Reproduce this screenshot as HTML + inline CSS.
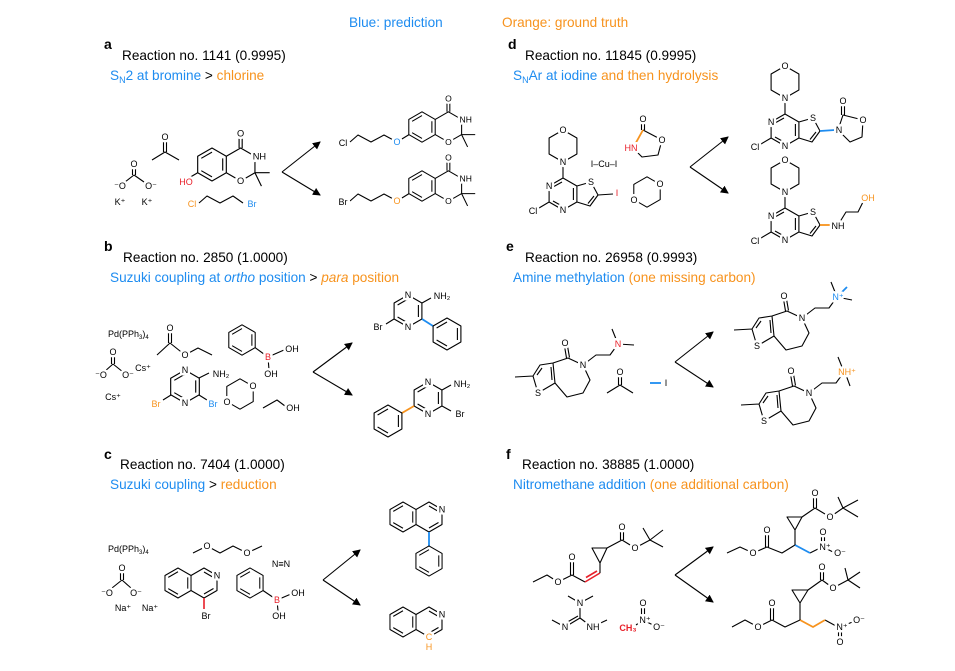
<!DOCTYPE html>
<html><head><meta charset="utf-8">
<style>
html,body{margin:0;padding:0;background:#fff}
svg{display:block}
text{font-family:"Liberation Sans",Arial,sans-serif}
.h{font-size:13.6px}
.p{font-size:14px;font-weight:bold}
.l{font-size:9px;text-anchor:middle;paint-order:stroke;stroke:#fff;stroke-width:5px;stroke-linejoin:round}
.b{fill:#1e8cf0}.o{fill:#f7931e}.r{fill:#e8202a}
path,polyline,polygon,line{fill:none;stroke:#000;stroke-width:1.1;stroke-linejoin:round}
.sb{stroke:#1e8cf0;stroke-width:1.8}.so{stroke:#f7931e;stroke-width:1.8}.sr{stroke:#e8202a;stroke-width:1.6}
</style></head><body>
<svg width="955" height="671" viewBox="0 0 955 671" xmlns="http://www.w3.org/2000/svg">
<defs>
<marker id="ah" markerWidth="8" markerHeight="8" refX="7" refY="4" orient="auto" markerUnits="userSpaceOnUse"><path d="M0,0 L8,4 L0,8 Z" style="fill:#000;stroke:none"/></marker>
<g id="hx"><polygon points="0,-16 13.9,-8 13.9,8 0,16 -13.9,8 -13.9,-8"/></g>
<g id="bz"><polygon points="0,-16 13.9,-8 13.9,8 0,16 -13.9,8 -13.9,-8"/><path d="M-10.4,-6 L0,-12 M10.4,-6 L10.4,6 M0,12 L-10.4,6"/></g>
<g id="bx"><use href="#bz"/>
<path d="M13.9,-8 L27.8,-16 L41.7,-8 L41.7,8 L27.8,16 L13.9,8 M26.3,-16 L26.3,-27 M29.3,-16 L29.3,-27 M41.7,8 L56,8 M41.7,8 L48,21"/>
<text class="l" x="27.8" y="-27">O</text><text class="l" x="46" y="-5">NH</text><text class="l" x="27.8" y="19">O</text></g>
<g id="tp"><path d="M0,-16 L-13.9,-8 L-13.9,8 L0,16 L13.9,8 L13.9,-8 Z M-1,-12 L-10,-7 M-10,7 L-1,12 M10.4,-6 L10.4,6 M13.9,-8 L28,-12 L35,1 L27,12 L13.9,8 M31,2 L25,9.5 M-13.9,8 L-24,14 M0,-16 L0,-32 M0,-32 L-13.9,-40 L-13.9,-56 L0,-64 L13.9,-56 L13.9,-40 Z"/>
<text class="l" x="0" y="-29">N</text><text class="l" x="0" y="-61">O</text><text class="l" x="-13.9" y="-5">N</text><text class="l" x="0" y="19">N</text><text class="l" x="28" y="-9">S</text><text class="l" x="-30" y="20">Cl</text></g>
<g id="ta"><path d="M-68,12 L-50,11 M-50,11 L-43,0 L-30,-2 L-28,18 L-45,28 Z M-46,10 L-41,3 M-32,2 L-31,15 M-30,-2 L-15,-7 L0,0 L7,15 L0,28 L-16,32 L-28,18 M-16.5,-7 L-18.5,-19 M-13.5,-7.5 L-15.5,-19 M0,0 L13,-10 L27,-10 L35,-21"/>
<text class="l" x="-18" y="-19">O</text><text class="l" x="0" y="3">N</text><text class="l" x="-45" y="31">S</text></g>
<g id="iq"><g transform="scale(0.9375)"><use href="#bz"/></g><path d="M13,-7.5 L26,-15 L39,-7.5 L39,7.5 L26,15 L13,7.5 M26,-11 L35.5,-5.5 M35.5,5.5 L26,11"/><text class="l" x="39" y="-4.5">N</text></g>
</defs>

<text class="h b" x="349" y="27">Blue: prediction</text>
<text class="h o" x="502" y="27">Orange: ground truth</text>

<text class="p" x="104" y="49">a</text>
<text class="h" x="122" y="60">Reaction no. 1141 (0.9995)</text>
<text class="h" x="110" y="80"><tspan class="b">S<tspan font-size="9" dy="3">N</tspan><tspan dy="-3">2 at bromine</tspan></tspan> &gt; <tspan class="o">chlorine</tspan></text>
<text class="p" x="508" y="49">d</text>
<text class="h" x="525" y="60">Reaction no. 11845 (0.9995)</text>
<text class="h" x="513" y="80"><tspan class="b">S<tspan font-size="9" dy="3">N</tspan><tspan dy="-3">Ar at iodine</tspan></tspan> <tspan class="o">and then hydrolysis</tspan></text>
<text class="p" x="104" y="251">b</text>
<text class="h" x="123" y="262">Reaction no. 2850 (1.0000)</text>
<text class="h" x="110" y="282"><tspan class="b">Suzuki coupling at <tspan font-style="italic">ortho</tspan> position</tspan> &gt; <tspan class="o"><tspan font-style="italic">para</tspan> position</tspan></text>
<text class="p" x="506" y="251">e</text>
<text class="h" x="525" y="262">Reaction no. 26958 (0.9993)</text>
<text class="h" x="513" y="282"><tspan class="b">Amine methylation</tspan> <tspan class="o">(one missing carbon)</tspan></text>
<text class="p" x="104" y="459">c</text>
<text class="h" x="120" y="469">Reaction no. 7404 (1.0000)</text>
<text class="h" x="110" y="489"><tspan class="b">Suzuki coupling</tspan> &gt; <tspan class="o">reduction</tspan></text>
<text class="p" x="506" y="459">f</text>
<text class="h" x="522" y="469">Reaction no. 38885 (1.0000)</text>
<text class="h" x="513" y="489"><tspan class="b">Nitromethane addition</tspan> <tspan class="o">(one additional carbon)</tspan></text>

<line x1="282" y1="172" x2="320" y2="142" marker-end="url(#ah)"/><line x1="282" y1="172" x2="320" y2="195" marker-end="url(#ah)"/>
<line x1="690" y1="167" x2="728" y2="137" marker-end="url(#ah)"/><line x1="690" y1="167" x2="728" y2="193" marker-end="url(#ah)"/>
<line x1="313" y1="372" x2="352" y2="343" marker-end="url(#ah)"/><line x1="313" y1="372" x2="352" y2="395" marker-end="url(#ah)"/>
<line x1="675" y1="362" x2="713" y2="332" marker-end="url(#ah)"/><line x1="675" y1="362" x2="713" y2="387" marker-end="url(#ah)"/>
<line x1="323" y1="580" x2="360" y2="550" marker-end="url(#ah)"/><line x1="323" y1="580" x2="360" y2="605" marker-end="url(#ah)"/>
<line x1="675" y1="575" x2="713" y2="547" marker-end="url(#ah)"/><line x1="675" y1="575" x2="713" y2="602" marker-end="url(#ah)"/>

<!-- panel a -->
<path d="M132.5,175 L132.5,167 M135.5,175 L135.5,167 M134,175 L125,182 M134,175 L144,182"/>
<text class="l" x="134" y="167">O</text><text class="l" x="120" y="189">⁻O</text><text class="l" x="151" y="189">O⁻</text>
<text class="l" x="120" y="205">K⁺</text><text class="l" x="147" y="205">K⁺</text>
<path d="M152,160 L165,152 L179,160 M163.5,152 L163.5,141 M166.5,152 L166.5,141"/><text class="l" x="165" y="140">O</text>
<g transform="translate(212,164.5) scale(1.03)"><use href="#bx"/><path d="M-13.9,8 L-24,14"/></g>
<text class="l r" x="186" y="185">HO</text>
<polyline points="199,203 207,196 220,203 233,196 243,203"/>
<text class="l o" x="192" y="207">Cl</text><text class="l b" x="252" y="207">Br</text>
<g transform="translate(422,127) scale(0.95)"><use href="#bx"/></g>
<polyline points="350,142 358,135 371,142 384,135 397,142 409,134.6"/>
<text class="l" x="343" y="146">Cl</text><text class="l b" x="397" y="145">O</text>
<g transform="translate(422,186) scale(0.95)"><use href="#bx"/></g>
<polyline points="350,201 358,194 371,201 384,194 397,201 409,193.6"/>
<text class="l" x="343" y="205">Br</text><text class="l o" x="397" y="204">O</text>

<!-- panel d -->
<g transform="translate(563,194)"><use href="#tp"/><path d="M35,1 L50,0"/></g>
<text class="l r" x="617" y="196">I</text>
<text class="l" x="604" y="167">I–Cu–I</text>
<path d="M641.5,130 L641.5,122 M644.5,130 L644.5,122 M643,130 L662,140 L658,155 L642,157 L633,148"/>
<path d="M643,130 L633,148" class="so"/>
<text class="l" x="643" y="122">O</text><text class="l" x="662" y="143">O</text><text class="l r" x="631" y="151">HN</text>
<g transform="translate(647,192) scale(0.95)"><use href="#hx"/></g>
<text class="l" x="660" y="187">O</text><text class="l" x="634" y="203">O</text>
<g transform="translate(785,130)"><use href="#tp"/></g>
<path d="M820,131 L835,130" class="sb"/>
<path d="M838,130 L843,115 L863,120 L862,137 L850,142 Z M841.5,115 L841.5,104 M844.5,115 L844.5,104"/>
<text class="l" x="839" y="133">N</text><text class="l" x="843" y="104">O</text><text class="l" x="863" y="123">O</text>
<g transform="translate(785,224)"><use href="#tp"/></g>
<path d="M820,225 L831,225" class="so"/>
<path d="M838,225 L846,212 L858,212 L864,200"/>
<text class="l" x="838" y="229">NH</text><text class="l o" x="868" y="201">OH</text>

<!-- panel b -->
<text x="108" y="337" style="font-size:9px">Pd(PPh<tspan font-size="6" dy="2">3</tspan><tspan dy="-2">)</tspan><tspan font-size="6" dy="2">4</tspan></text>
<path d="M111.5,364 L111.5,355 M114.5,364 L114.5,355 M113,364 L104,372 M113,364 L123,372"/>
<text class="l" x="113" y="355">O</text><text class="l" x="101" y="378">⁻O</text><text class="l" x="128" y="378">O⁻</text>
<text class="l" x="143" y="371">Cs⁺</text><text class="l" x="113" y="400">Cs⁺</text>
<path d="M157,355 L170,343 L185,355 L198,348 L212,355 M168.5,343 L168.5,332 M171.5,343 L171.5,332"/>
<text class="l" x="170" y="331">O</text><text class="l" x="185" y="358">O</text>
<g transform="translate(242,340) scale(0.95)"><use href="#bz"/></g>
<path d="M255,347.6 L268,357 L284,350 M268,357 L269,370"/>
<text class="l r" x="268" y="360">B</text><text class="l" x="292" y="352">OH</text><text class="l" x="271" y="377">OH</text>
<g transform="translate(185,386.5) scale(1.03)"><use href="#bz"/></g>
<text class="l" x="185" y="373">N</text><text class="l" x="185" y="406">N</text>
<path d="M199,378 L209,373 M199,395 L207,400 M171,395 L163,400"/>
<text class="l" x="221" y="377">NH₂</text><text class="l b" x="213" y="407">Br</text><text class="l o" x="156" y="407">Br</text>
<g transform="translate(240,394) scale(0.95)"><use href="#hx"/></g>
<text class="l" x="253" y="389">O</text><text class="l" x="227" y="405">O</text>
<path d="M263,408 L277,400 L285,406"/><text class="l" x="293" y="411">OH</text>
<g transform="translate(408,311)"><use href="#bz"/></g>
<text class="l" x="408" y="298">N</text><text class="l" x="408" y="330">N</text>
<path d="M422,303 L431,298 M394,319 L386,324"/>
<text class="l" x="442" y="299">NH₂</text><text class="l" x="378" y="330">Br</text>
<path d="M422,319 L433,326" class="sb"/>
<g transform="translate(447,334)"><use href="#bz"/></g>
<g transform="translate(428,398)"><use href="#bz"/></g>
<text class="l" x="428" y="385">N</text><text class="l" x="428" y="417">N</text>
<path d="M442,390 L451,385 M442,406 L451,411"/>
<text class="l" x="462" y="387">NH₂</text><text class="l" x="460" y="417">Br</text>
<path d="M414,406 L402,413" class="so"/>
<g transform="translate(388,421)"><use href="#bz"/></g>

<!-- panel e -->
<g transform="translate(583,365)"><use href="#ta"/><path d="M35,-21 L29,-36 M35,-21 L51,-20"/></g>
<text class="l r" x="618" y="347">N</text>
<path d="M607,393 L620,385 L633,393 M618.5,385 L618.5,375 M621.5,385 L621.5,375"/><text class="l" x="620" y="375">O</text>
<path d="M650,383 L661,383" class="sb"/><text class="l" x="666" y="386">I</text>
<g transform="translate(802,318)"><use href="#ta"/><path d="M35,-21 L29,-36 M35,-21 L50,-18"/><path d="M37,-23 L45,-31" class="sb"/></g>
<text class="l b" x="838" y="300">N⁺</text>
<g transform="translate(809,393)"><use href="#ta"/><path d="M35,-21 L29,-36 M37,-18 L41,-7"/></g>
<text class="l o" x="847" y="375">NH⁺</text>

<!-- panel c -->
<text x="108" y="552" style="font-size:9px">Pd(PPh<tspan font-size="6" dy="2">3</tspan><tspan dy="-2">)</tspan><tspan font-size="6" dy="2">4</tspan></text>
<polyline points="193,553 207,546 220,553 233,546 247,553 262,546"/>
<text class="l" x="207" y="549">O</text><text class="l" x="247" y="556">O</text>
<text class="l" x="281" y="567">N≡N</text>
<path d="M120.5,580 L120.5,571 M123.5,580 L123.5,571 M122,580 L112,588 M122,580 L131,588"/>
<text class="l" x="122" y="571">O</text><text class="l" x="107" y="596">⁻O</text><text class="l" x="136" y="596">O⁻</text>
<text class="l" x="123" y="611">Na⁺</text><text class="l" x="150" y="611">Na⁺</text>
<g transform="translate(178,583)"><use href="#iq"/></g>
<path d="M204,598 L204,609" class="sr"/><text class="l" x="206" y="619">Br</text>
<g transform="translate(250,583) scale(0.94)"><use href="#bz"/></g>
<path d="M263,590.5 L277,600 L291,594 M277,600 L278,611"/>
<text class="l r" x="277" y="603">B</text><text class="l" x="298" y="596">OH</text><text class="l" x="279" y="619">OH</text>
<g transform="translate(403,517)"><use href="#iq"/></g>
<path d="M429,532 L429,546" class="sb"/>
<g transform="translate(429,561) scale(0.94)"><use href="#bz"/></g>
<g transform="translate(403,622)"><use href="#iq"/></g>
<text class="l o" x="429" y="640">C</text><text class="l o" x="429" y="650">H</text>

<!-- panel f -->
<path d="M533,582 L547,575 L558,582 L572,575 L585,582 M570.5,575 L570.5,560 M573.5,575 L573.5,560"/>
<text class="l" x="572" y="560">O</text><text class="l" x="558" y="585">O</text>
<path d="M585,582 L600,573 M586,577.5 L597,571" class="sr"/>
<path d="M600,573 L600,563 M600,563 L592,548 L607,548 Z M607,548 L622,540 L635,548 L650,540 M620.5,540 L620.5,530 M623.5,540 L623.5,530 M650,540 L643,528 M650,540 L663,530 M650,540 L663,547"/>
<text class="l" x="622" y="530">O</text><text class="l" x="635" y="551">O</text>
<path d="M580,603 L568,596 M580,603 L593,596 M580,603 L580,618 M580,618 L565,627 M578,616 L564,624 M565,627 L552,620 M580,618 L592,627 M592,627 L607,620"/>
<text class="l" x="580" y="606">N</text><text class="l" x="565" y="630">N</text><text class="l" x="593" y="630">NH</text>
<path d="M636,625 L643,620 M641.5,620 L641.5,607 M644.5,620 L644.5,607 M643,620 L655,626"/>
<text class="l" x="643" y="606">O</text><text class="l" x="645" y="623">N⁺</text><text class="l" x="659" y="630">O⁻</text>
<text class="l r" x="628" y="631" style="font-weight:bold">CH₃</text>
<path d="M727,553 L740,547 L753,553 L767,547 L782,553 L795,545 M765.5,547 L765.5,533 M768.5,547 L768.5,533 M810,553 L818,549 M821.5,547 L821.5,535 M824.5,547 L824.5,535 M823,547 L835,553"/>
<path d="M795,545 L810,553" class="sb"/>
<text class="l" x="767" y="533">O</text><text class="l" x="753" y="556">O</text>
<text class="l" x="825" y="550">N⁺</text><text class="l" x="823" y="535">O</text><text class="l" x="840" y="556">O⁻</text>
<path d="M795,545 L795,530 M795,530 L787,517 L802,517 Z M802,517 L815,508 L830,517 L843,508 M813.5,508 L813.5,496 M816.5,508 L816.5,496 M843,508 L838,497 M843,508 L858,500 M843,508 L858,517"/>
<text class="l" x="815" y="496">O</text><text class="l" x="830" y="520">O</text>
<path d="M732,627 L745,620 L758,627 L772,620 L785,627 L800,620 M770.5,620 L770.5,606 M773.5,620 L773.5,606 M825,620 L836,626 M838.5,627 L838.5,640 M841.5,627 L841.5,640 M840,627 L855,621"/>
<path d="M800,620 L813,627 L825,620" class="so"/>
<text class="l" x="772" y="606">O</text><text class="l" x="758" y="630">O</text>
<text class="l" x="842" y="630">N⁺</text><text class="l" x="840" y="645">O</text><text class="l" x="859" y="623">O⁻</text>
<path d="M800,620 L800,603 M800,603 L792,590 L808,590 Z M808,590 L822,580 L833,588 L848,580 M820.5,580 L820.5,570 M823.5,580 L823.5,570 M848,580 L845,568 M848,580 L860,572 M848,580 L860,588"/>
<text class="l" x="822" y="570">O</text><text class="l" x="833" y="591">O</text>
</svg>
</body></html>
